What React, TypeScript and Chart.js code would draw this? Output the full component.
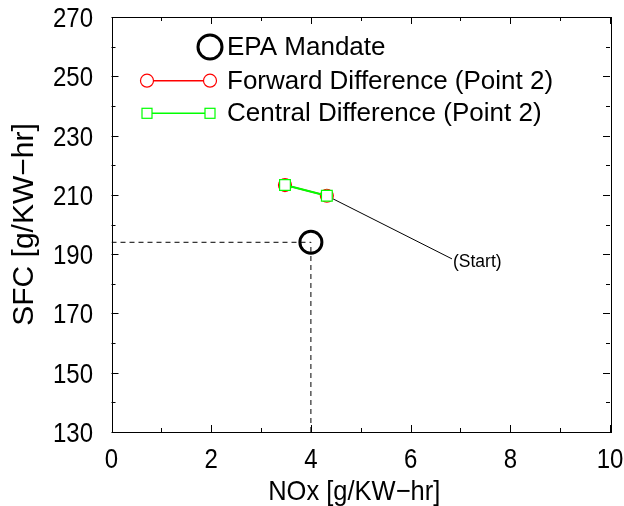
import { useEffect, useRef } from "react";
import { Chart, registerables } from "chart.js";

Chart.register(...registerables);

const xTicks = [0, 2, 4, 6, 8, 10];
const xMinorTicks = [1, 3, 5, 7, 9];
const yTicks = [130, 150, 170, 190, 210, 230, 250, 270];
const yMinorTicks = [140, 160, 180, 200, 220, 240, 260];

const epaMandate = [{ x: 4, y: 194 }];
const epaHorizontal = [{ x: 0, y: 194 }, { x: 4, y: 194 }];
const epaVertical = [{ x: 4, y: 130 }, { x: 4, y: 194 }];
const startPath = [{ x: 6.83, y: 188.4 }, { x: 4.32, y: 209.7 }];
const forwardDiff = [{ x: 3.48, y: 213.3 }, { x: 4.32, y: 209.7 }];
const centralDiff = [{ x: 3.48, y: 213.3 }, { x: 4.32, y: 209.7 }];

const legendLabels = ["EPA Mandate", "Forward Difference (Point 2)", "Central Difference (Point 2)"];
const startLabel = "(Start)";
const xTitle = "NOx [g/KW\u2212hr]";
const yTitle = "SFC [g/KW\u2212hr]";

const FONT = "'Liberation Sans', Arial, sans-serif";
const RED = "#ff0000";
const GREEN = "#00ff00";

const drawStretched = (ctx: any, text: string, x: number, y: number, align: string, sy: number) => {
  ctx.save();
  ctx.translate(x, y);
  ctx.scale(1, sy);
  ctx.textAlign = align;
  ctx.textBaseline = "alphabetic";
  ctx.fillText(text, 0, 0);
  ctx.restore();
};

const framePlugin = {
  id: "frameTicks",
  beforeDatasetsDraw(chart: any) {
    const { ctx, chartArea } = chart;
    const { left, right, top, bottom } = chartArea;
    const xs = chart.scales.x;
    const ys = chart.scales.y;
    ctx.save();
    ctx.strokeStyle = "#000";
    ctx.lineWidth = 1;
    ctx.beginPath();
    const tick = (vals: number[], len: number) => {
      vals.forEach((v) => {
        const px = Math.round(xs.getPixelForValue(v)) + 0.5;
        ctx.moveTo(px, bottom);
        ctx.lineTo(px, bottom - len);
        ctx.moveTo(px, top);
        ctx.lineTo(px, top + len);
      });
    };
    const ytick = (vals: number[], len: number) => {
      vals.forEach((v) => {
        const py = Math.round(ys.getPixelForValue(v)) + 0.5;
        ctx.moveTo(left, py);
        ctx.lineTo(left + len, py);
        ctx.moveTo(right, py);
        ctx.lineTo(right - len, py);
      });
    };
    tick(xTicks, 7);
    tick(xMinorTicks, 4);
    ytick(yTicks, 7);
    ytick(yMinorTicks, 4);
    ctx.stroke();
    ctx.strokeRect(Math.round(left) + 0.5, Math.round(top) + 0.5, Math.round(right - left), Math.round(bottom - top));
    ctx.restore();
  },
  afterDraw(chart: any) {
    const { ctx, chartArea } = chart;
    const xs = chart.scales.x;
    const ys = chart.scales.y;
    ctx.save();
    ctx.fillStyle = "#000";

    // Tick labels (slightly tall glyphs, as in the reference)
    ctx.font = `24px ${FONT}`;
    xs.ticks.forEach((t: any) => {
      drawStretched(ctx, String(t.value), xs.getPixelForValue(t.value), chartArea.bottom + 36, "center", 1.17);
    });
    ys.ticks.forEach((t: any) => {
      drawStretched(ctx, String(t.value), chartArea.left - 18.5, ys.getPixelForValue(t.value) + 10, "right", 1.17);
    });

    // X axis title
    ctx.font = `25.5px ${FONT}`;
    drawStretched(ctx, xTitle, (chartArea.left + chartArea.right) / 2 - 6.5, chartArea.bottom + 68, "center", 1.08);

    // (Start) label
    const sx = xs.getPixelForValue(startPath[0].x);
    const sy = ys.getPixelForValue(startPath[0].y);
    ctx.font = `17.5px ${FONT}`;
    ctx.textAlign = "left";
    ctx.textBaseline = "middle";
    ctx.fillText(startLabel, sx + 1, sy + 3);

    // Legend
    const L = chartArea.left;
    const T = chartArea.top;
    const m1 = L + 35.5;
    const m2 = L + 98.5;
    const tx = L + 115.5;
    const rows = [T + 30, T + 63.7, T + 96.3];
    ctx.font = `26px ${FONT}`;
    ctx.textBaseline = "middle";
    ctx.textAlign = "left";

    // EPA
    ctx.strokeStyle = "#000";
    ctx.lineWidth = 3;
    ctx.beginPath();
    ctx.arc(m2, rows[0], 12, 0, Math.PI * 2);
    ctx.stroke();
    ctx.fillText(legendLabels[0], tx, rows[0] + 1);

    // Forward
    ctx.strokeStyle = RED;
    ctx.lineWidth = 1.5;
    ctx.beginPath();
    ctx.moveTo(m1, rows[1]);
    ctx.lineTo(m2, rows[1]);
    ctx.stroke();
    ctx.lineWidth = 1.2;
    [m1, m2].forEach((mx) => {
      ctx.beginPath();
      ctx.arc(mx, rows[1], 6.5, 0, Math.PI * 2);
      ctx.fillStyle = "#fff";
      ctx.fill();
      ctx.stroke();
    });
    ctx.fillStyle = "#000";
    ctx.fillText(legendLabels[1], tx, rows[1] + 1);

    // Central
    ctx.strokeStyle = GREEN;
    ctx.lineWidth = 1.5;
    ctx.beginPath();
    ctx.moveTo(m1, rows[2]);
    ctx.lineTo(m2, rows[2]);
    ctx.stroke();
    ctx.lineWidth = 1.2;
    [m1, m2].forEach((mx) => {
      ctx.fillStyle = "#fff";
      ctx.fillRect(mx - 5, rows[2] - 5, 10, 10);
      ctx.strokeRect(mx - 5, rows[2] - 5, 10, 10);
    });
    ctx.fillStyle = "#000";
    ctx.fillText(legendLabels[2], tx, rows[2] + 1);
    ctx.restore();
  },
};

const zeroPad = (s: any) => {
  s.paddingTop = 0;
  s.paddingBottom = 0;
  s.paddingLeft = 0;
  s.paddingRight = 0;
};

export default function App() {
  const ref = useRef<HTMLCanvasElement | null>(null);

  useEffect(() => {
    document.body.style.margin = "0";
    const canvas = ref.current;
    if (!canvas) return;
    const chart = new Chart(canvas, {
      type: "scatter",
      data: {
        datasets: [
          {
            data: centralDiff,
            showLine: true,
            borderColor: GREEN,
            borderWidth: 2,
            pointStyle: "rect",
            pointRadius: 7.6,
            pointBorderWidth: 1.2,
            pointBorderColor: GREEN,
            pointBackgroundColor: "#fff",
          },
          {
            data: forwardDiff,
            showLine: true,
            borderColor: RED,
            borderWidth: 1.5,
            pointStyle: "circle",
            pointRadius: 6.5,
            pointBorderWidth: 1.2,
            pointBorderColor: RED,
            pointBackgroundColor: "#fff",
          },
          {
            data: startPath,
            showLine: true,
            borderColor: "#000",
            borderWidth: 1,
            pointRadius: 0,
          },
          {
            data: epaHorizontal,
            showLine: true,
            borderColor: "#000",
            borderWidth: 1,
            borderDash: [5, 4],
            pointRadius: 0,
          },
          {
            data: epaVertical,
            showLine: true,
            borderColor: "#000",
            borderWidth: 1,
            borderDash: [5, 4],
            pointRadius: 0,
          },
          {
            data: epaMandate,
            pointStyle: "circle",
            pointRadius: 11,
            pointBorderWidth: 3,
            pointBorderColor: "#000",
            pointBackgroundColor: "rgba(0,0,0,0)",
          },
        ],
      } as any,
      options: {
        animation: false,
        responsive: true,
        maintainAspectRatio: false,
        events: [],
        layout: { padding: { left: 0, right: 14, top: 17, bottom: 0 } },
        plugins: {
          legend: { display: false },
          tooltip: { enabled: false },
        },
        scales: {
          x: {
            type: "linear",
            min: 0,
            max: 10,
            afterBuildTicks: (s: any) => {
              s.ticks = xTicks.map((v) => ({ value: v }));
            },
            afterFit: (s: any) => {
              s.height = 74;
              zeroPad(s);
            },
            grid: { display: false, drawTicks: false },
            border: { display: false },
            ticks: { display: false },
            title: { display: false, text: xTitle },
          },
          y: {
            type: "linear",
            min: 130,
            max: 270,
            afterBuildTicks: (s: any) => {
              s.ticks = yTicks.map((v) => ({ value: v }));
            },
            afterFit: (s: any) => {
              s.width = 111.5;
              zeroPad(s);
            },
            grid: { display: false, drawTicks: false },
            border: { display: false },
            ticks: { display: false },
            title: {
              display: true,
              text: yTitle,
              font: { family: FONT, size: 30 },
              color: "#000",
              padding: { top: 7, bottom: 0 },
            },
          },
        },
      },
      plugins: [framePlugin],
    } as any);
    return () => chart.destroy();
  }, []);

  return (
    <div style={{ position: "absolute", left: 0, top: 0, width: 624, height: 506, background: "#fff" }}>
      <canvas ref={ref} />
    </div>
  );
}
